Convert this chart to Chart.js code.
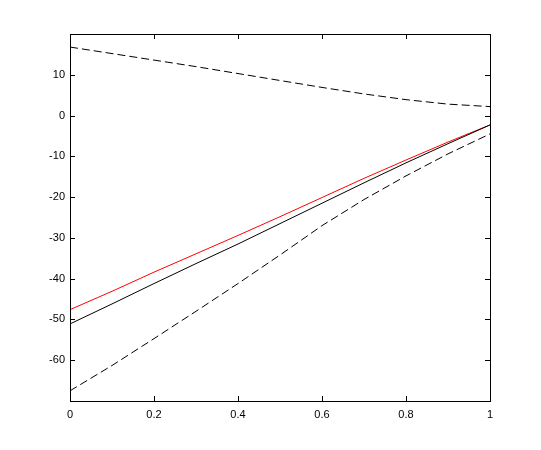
<!DOCTYPE html>
<html>
<head>
<meta charset="utf-8">
<script src="https://cdn.jsdelivr.net/npm/chart.js@4/dist/chart.umd.min.js"></script>
<style>
  body { margin: 0; background: #fff; }
  #plot { display: block; }
</style>
</head>
<body>
<canvas id="plot" width="541" height="450"></canvas>
<script>
// values, x from 0 to 1
const xValues = [0, 0.1, 0.2, 0.3, 0.4, 0.5, 0.6, 0.7, 0.8, 0.9, 1];
const redLine = [-47.6, -43.1, -38.4, -33.9, -29.4, -24.8, -20.1, -15.4, -10.9, -6.5, -2.3];
const blackLine = [-51.1, -46.2, -41.2, -36.3, -31.5, -26.5, -21.5, -16.5, -11.6, -6.9, -2.3];
const lowerBound = [-67.5, -61.3, -54.7, -48.0, -41.2, -34.2, -27.0, -20.6, -14.8, -9.4, -4.5];
const upperBound = [16.8, 15.2, 13.6, 12.0, 10.3, 8.6, 6.9, 5.3, 3.9, 2.8, 2.2];
const yTickValues = [-60, -50, -40, -30, -20, -10, 0, 10];
const xTickValues = [0, 0.2, 0.4, 0.6, 0.8, 1];

const toPoints = arr => arr.map((v, i) => ({ x: xValues[i], y: v }));

// MATLAB style box with inward ticks on all four sides
const boxTicks = {
    id: 'boxTicks',
    afterDraw(chart) {
        const { ctx, chartArea: { left, right, top, bottom }, scales: { x, y } } = chart;
        const len = 5;
        ctx.save();
        ctx.strokeStyle = '#000';
        ctx.lineWidth = 1;
        ctx.strokeRect(left + 0.5, top + 0.5, right - left, bottom - top);
        ctx.beginPath();
        xTickValues.forEach(v => {
            const px = Math.round(x.getPixelForValue(v)) + 0.5;
            ctx.moveTo(px, bottom);
            ctx.lineTo(px, bottom - len);
            ctx.moveTo(px, top);
            ctx.lineTo(px, top + len);
        });
        yTickValues.forEach(v => {
            const py = Math.round(y.getPixelForValue(v)) + 0.5;
            ctx.moveTo(left, py);
            ctx.lineTo(left + len, py);
            ctx.moveTo(right, py);
            ctx.lineTo(right - len, py);
        });
        ctx.stroke();
        ctx.restore();
    }
};

Chart.defaults.font.family = '"Liberation Sans", Arial, sans-serif';
Chart.defaults.font.size = 11;
Chart.defaults.color = '#000';

const lineStyle = (data, color, dash) => ({
    data: toPoints(data),
    borderColor: color,
    borderWidth: 1,
    borderDash: dash,
    pointRadius: 0,
    tension: 0,
    fill: false
});

new Chart(document.getElementById('plot'), {
    type: 'line',
    data: {
        datasets: [
            lineStyle(upperBound, '#000', [8, 4]),
            lineStyle(lowerBound, '#000', [8, 4]),
            lineStyle(blackLine, '#000', []),
            lineStyle(redLine, '#ff0000', [])
        ]
    },
    options: {
        responsive: false,
        animation: false,
        layout: { padding: { top: 34, right: 51, left: 0, bottom: 0 } },
        plugins: { legend: { display: false }, tooltip: { enabled: false } },
        scales: {
            x: {
                type: 'linear',
                min: 0,
                max: 1,
                grid: { display: false, drawTicks: false },
                border: { display: false },
                afterBuildTicks: s => { s.ticks = xTickValues.map(v => ({ value: v })); },
                afterFit: s => { s.height = 49; },
                ticks: { padding: 7, maxRotation: 0, callback: v => String(+v.toFixed(1)) }
            },
            y: {
                type: 'linear',
                min: -70,
                max: 20,
                grid: { display: false, drawTicks: false },
                border: { display: false },
                afterBuildTicks: s => { s.ticks = yTickValues.map(v => ({ value: v })); },
                afterFit: s => { s.width = 70; },
                ticks: { padding: 5, callback: v => String(v) }
            }
        }
    },
    plugins: [boxTicks]
});
</script>
</body>
</html>
